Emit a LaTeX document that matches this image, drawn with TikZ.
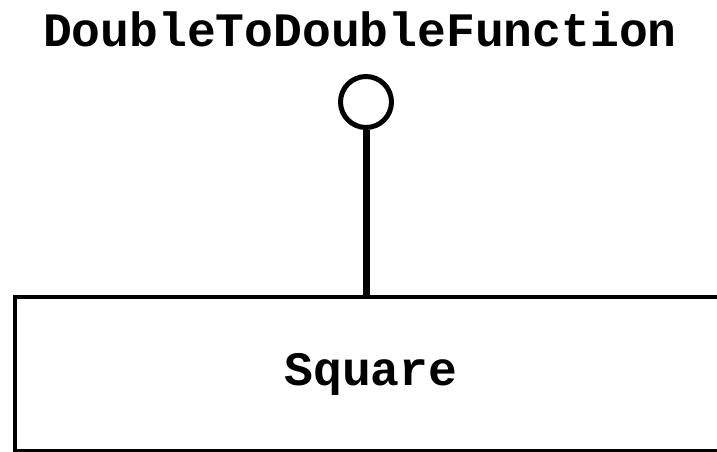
\documentclass[tikz,border=0pt]{standalone}
\usepackage{fontspec}
\setmonofont{Liberation Mono}
\usepackage{tikz}
\definecolor{UMLLine}{HTML}{000000}
\tikzset{
  umllabel/.style={font=\fontsize{48}{50}\selectfont\ttfamily\bfseries,inner sep=0pt},
  lollipop/.style={circle,draw=UMLLine,line width=5pt,minimum size=51pt,inner sep=0pt},
  classbox/.style={draw=UMLLine,line width=4pt,minimum width=712pt,minimum height=154pt,inner sep=0pt},
}

\begin{document}
\begin{tikzpicture}[x=1pt,y=-1pt]
\path[use as bounding box] (0,0) rectangle (717,452);
\node[umllabel] (ifname) at (360,29) {DoubleToDoubleFunction};
\node[lollipop] (iface) at (366,102) {};
\node[classbox,umllabel] (square) at (371,374) {Square};
\draw[UMLLine,line width=7pt] (iface.south) -- (iface.south |- square.north);
\end{tikzpicture}
\end{document}
